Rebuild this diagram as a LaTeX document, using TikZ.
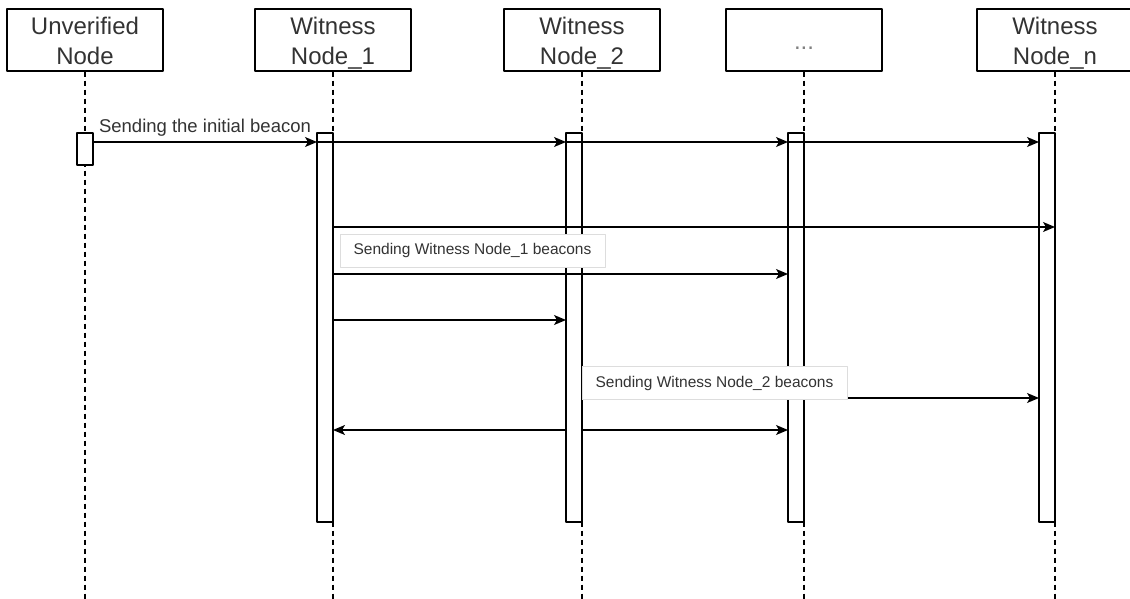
\documentclass[tikz,border=0pt]{standalone}
\usepackage{fontspec}
\setmainfont{Liberation Sans}
\usetikzlibrary{arrows.meta}
\definecolor{txtgray}{HTML}{333333}
\definecolor{notegray}{HTML}{DDDDDD}
% head label with fixed top and bottom struts
\newcommand{\headtxt}[1]{\rule{0pt}{26pt}#1\rule[-6pt]{0pt}{6pt}}

\begin{document}
\begin{tikzpicture}[line join=round,>={Stealth[length=12pt,width=10pt,inset=3pt]},x=1pt,y=-1pt,
  head/.style={draw,line width=1.3pt,minimum width=156pt,minimum height=62pt,inner sep=0pt,align=center,
    text=txtgray,font=\fontsize{24}{30}\selectfont},
  actbar/.style={draw,fill=white,line width=1.3pt,minimum width=16pt,inner sep=0pt,outer sep=0pt},
  life/.style={line width=1.3pt,dash pattern=on 5pt off 4pt},
  msg/.style={->,line width=1.3pt},
  note/.style={draw=notegray,fill=white,line width=1pt,minimum width=265pt,minimum height=33pt,inner sep=0pt,
    text=txtgray,font=\fontsize{15.5}{18}\selectfont}]
\fill[white] (0,0) rectangle (1130,599);
\useasboundingbox (0,0) rectangle (1130,599);
%
% heads
\node[head] (uv) at (85,40) {\headtxt{Unverified\\Node}};
\node[head] (w1) at (333,40) {\headtxt{Witness\\Node\_1}};
\node[head] (w2) at (582,40) {\headtxt{Witness\\Node\_2}};
\node[head] (wd) at (804,40) {\headtxt{\textcolor{gray}{...}}};
\node[head] (wn) at (1055,40) {\headtxt{Witness\\Node\_n}};
%
\coordinate (top) at (0,133);
\coordinate (bot) at (0,599);
\coordinate (r0) at (0,142);
\coordinate (r1) at (0,227);
\coordinate (r2) at (0,274);
\coordinate (r3) at (0,320);
\coordinate (r4) at (0,398);
\coordinate (r5) at (0,430);
%
% lifelines
\draw[life] (uv.south) -- (uv.south |- bot);
\draw[life] (w1.south) -- (w1.south |- bot);
\draw[life] (w2.south) -- (w2.south |- bot);
\draw[life] (wd.south) -- (wd.south |- bot);
\draw[life] (wn.south) -- (wn.south |- bot);
%
% activation bars
\node[actbar,minimum height=32pt,anchor=north] (bu) at (uv.south |- top) {};
\node[actbar,minimum height=389pt,anchor=north east] (b1) at (w1.south |- top) {};
\node[actbar,minimum height=389pt,anchor=north east] (b2) at (w2.south |- top) {};
\node[actbar,minimum height=389pt,anchor=north east] (bd) at (wd.south |- top) {};
\node[actbar,minimum height=389pt,anchor=north east] (bn) at (wn.south |- top) {};
%
% messages
\draw[msg] (bu.east |- r0) -- node[above=3pt,inner sep=2pt,text=txtgray,font=\fontsize{18.5}{22}\selectfont] (init) {Sending the initial beacon} (b1.west |- r0);
\draw[msg] (b1.west |- r0) -- (b2.west |- r0);
\draw[msg] (b2.west |- r0) -- (bd.west |- r0);
\draw[msg] (bd.west |- r0) -- (bn.west |- r0);
\draw[msg] (b1.east |- r1) -- (bn.east |- r1);
\draw[msg] (b1.east |- r2) -- (bd.west |- r2);
\draw[msg] (b1.east |- r3) -- (b2.west |- r3);
\draw[msg] (b2.east |- r4) -- (bn.west |- r4);
\draw[msg] (b2.west |- r5) -- (b1.east |- r5);
\draw[msg] (b2.east |- r5) -- (bd.west |- r5);
%
% notes
\node[note] (n1) at (472.5,250.5) {Sending Witness Node\_1 beacons};
\node[note] (n2) at (714.5,383) {Sending Witness Node\_2 beacons};
\end{tikzpicture}
\end{document}
